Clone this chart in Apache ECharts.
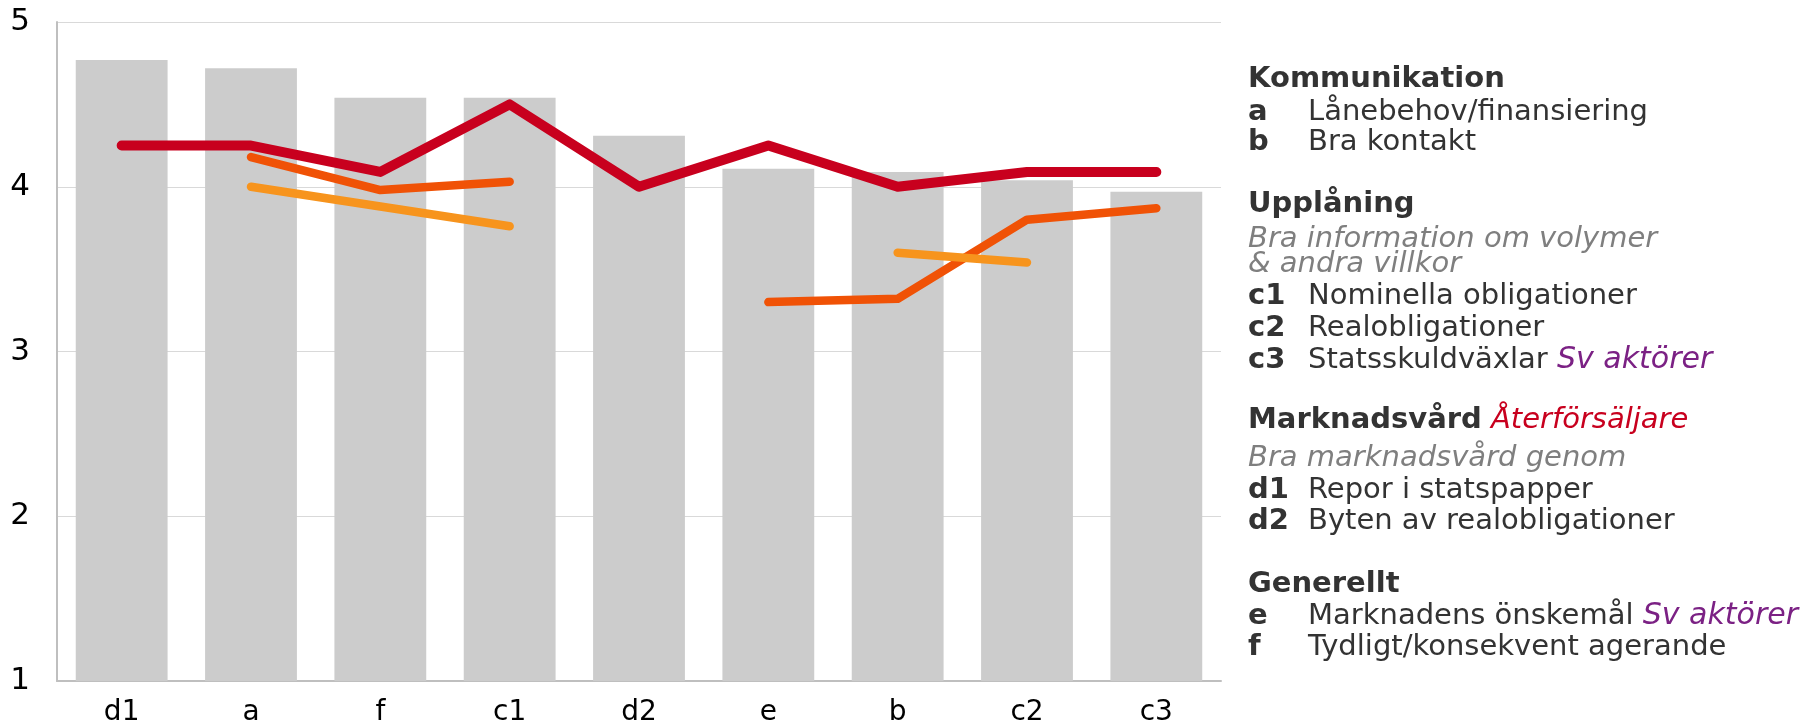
<!DOCTYPE html>
<html>
<head>
<meta charset="utf-8">
<script src="https://cdn.jsdelivr.net/npm/echarts@6/dist/echarts.min.js"></script>
<style>
html,body{margin:0;padding:0;background:#fff;}
#c{width:1818px;height:727px;}
</style>
</head>
<body>
<div id="c"></div>
<script>
const categories = ['d1','a','f','c1','d2','e','b','c2','c3'];
const barValues = [4.77, 4.72, 4.54, 4.54, 4.31, 4.11, 4.09, 4.04, 3.97];
const redValues = [4.25, 4.25, 4.09, 4.50, 4.00, 4.25, 4.00, 4.09, 4.09];
const orangeRedValues = [null, 4.18, 3.98, 4.03, null, 3.30, 3.32, 3.80, 3.87];
const orangeValues = [null, 4.00, 3.88, 3.76, null, null, 3.60, 3.54, null];
const yTicks = [1, 2, 3, 4, 5];

const legendRows = [
  [79,  '{h|Kommunikation}', ''],
  [112, '{k|a}', 'Lånebehov/finansiering'],
  [142, '{k|b}', 'Bra kontakt'],
  [204, '{h|Upplåning}', ''],
  [239, '{g|Bra information om volymer}', ''],
  [264, '{g|& andra villkor}', ''],
  [296, '{k|c1}', 'Nominella obligationer'],
  [328, '{k|c2}', 'Realobligationer'],
  [360, '{k|c3}', 'Statsskuldväxlar {p|Sv aktörer}'],
  [420, '{h|Marknadsvård} {r|Återförsäljare}', ''],
  [458, '{g|Bra marknadsvård genom}', ''],
  [490, '{k|d1}', 'Repor i statspapper'],
  [521, '{k|d2}', 'Byten av realobligationer'],
  [584, '{h|Generellt}', ''],
  [616, '{k|e}', 'Marknadens önskemål {p|Sv aktörer}'],
  [647, '{k|f}', 'Tydligt/konsekvent agerande']
];

const FONT = 'DejaVu Sans';
const FS = 29;
const rich = {
  h: {fontFamily: FONT, fontSize: FS, fontWeight: 'bold', fill: '#333333'},
  k: {fontFamily: FONT, fontSize: FS, fontWeight: 'bold', fill: '#333333'},
  g: {fontFamily: FONT, fontSize: FS, fontStyle: 'italic', fill: '#7f7f7f'},
  p: {fontFamily: FONT, fontSize: 30, fontStyle: 'italic', fill: '#7b2184'},
  r: {fontFamily: FONT, fontSize: FS, fontStyle: 'italic', fill: '#c8001e'}
};

const graphics = [];
legendRows.forEach(function (row) {
  graphics.push({
    type: 'text', x: 1248, y: row[0], silent: true,
    style: {text: row[1], rich: rich, fontFamily: FONT, fontSize: FS, fill: '#333333', verticalAlign: 'middle', align: 'left'}
  });
  if (row[2]) {
    graphics.push({
      type: 'text', x: 1308, y: row[0], silent: true,
      style: {text: row[2], rich: rich, fontFamily: FONT, fontSize: FS, fill: '#333333', verticalAlign: 'middle', align: 'left'}
    });
  }
});

const chart = echarts.init(document.getElementById('c'), null, {renderer: 'canvas'});
chart.setOption({
  animation: false,
  backgroundColor: '#ffffff',
  grid: {left: 57, right: 597, top: 22, bottom: 44, containLabel: false},
  xAxis: {
    type: 'category',
    data: categories,
    axisLine: {show: true, lineStyle: {color: '#bfbfbf', width: 2}},
    axisTick: {show: false},
    axisLabel: {color: '#000000', fontFamily: FONT, fontSize: 28, margin: 18}
  },
  yAxis: {
    type: 'value',
    min: yTicks[0], max: yTicks[yTicks.length - 1], interval: 1,
    axisLine: {show: true, lineStyle: {color: '#bfbfbf', width: 2}},
    axisTick: {show: false},
    splitLine: {show: true, lineStyle: {color: '#d9d9d9', width: 1}},
    axisLabel: {color: '#000000', fontFamily: FONT, fontSize: 31, margin: 27, align: 'right'}
  },
  series: [
    {
      name: 'Totalt', type: 'bar', data: barValues,
      barCategoryGap: '29%',
      itemStyle: {color: '#cccccc'},
      silent: true
    },
    {
      name: 'Återförsäljare', type: 'line', data: redValues,
      showSymbol: false, symbol: 'none',
      lineStyle: {color: '#c8001e', width: 10, cap: 'round', join: 'round'},
      silent: true
    },
    {
      name: 'Grupp 2', type: 'line', data: orangeRedValues,
      showSymbol: false, symbol: 'none', connectNulls: false,
      lineStyle: {color: '#f05206', width: 8.5, cap: 'round', join: 'round'},
      silent: true
    },
    {
      name: 'Grupp 3', type: 'line', data: orangeValues,
      showSymbol: false, symbol: 'none', connectNulls: false,
      lineStyle: {color: '#f7941d', width: 8.5, cap: 'round', join: 'round'},
      silent: true
    }
  ],
  graphic: graphics
});
</script>
</body>
</html>
